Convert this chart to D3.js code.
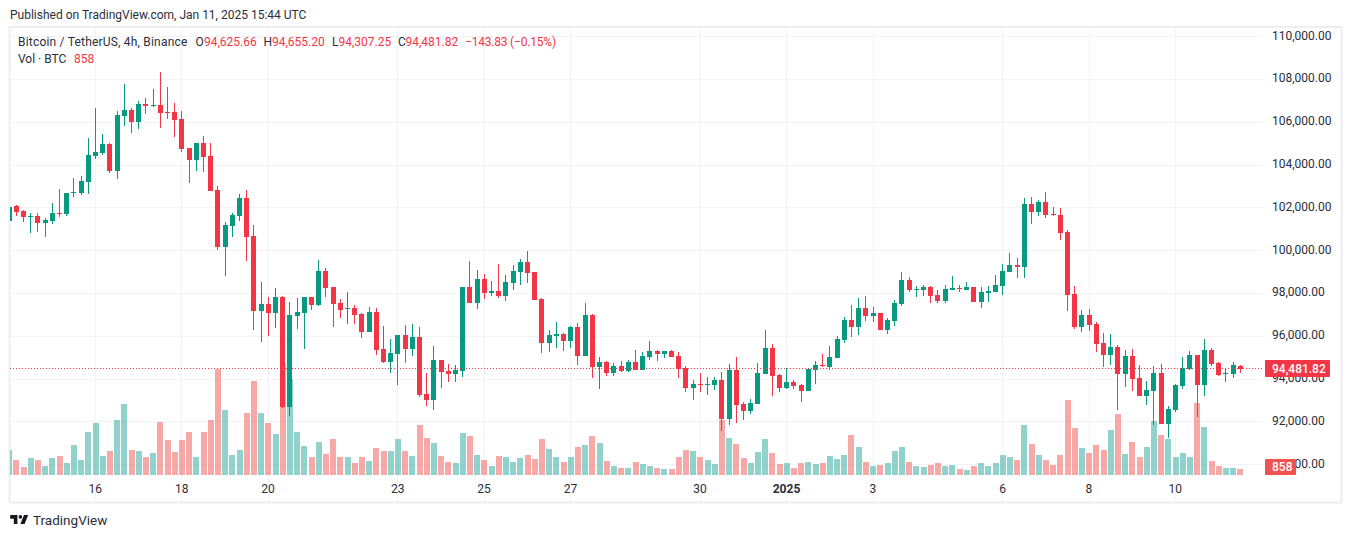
<!DOCTYPE html>
<html><head><meta charset="utf-8">
<style>html,body{margin:0;padding:0;background:#fff}svg{display:block}text{font-family:Roboto,sans-serif}</style>
<script src="https://d3js.org/d3.v7.min.js"></script></head><body><div id="c"></div>
<script>
const opens=[101386,102087,101853,101588,101619,101292,101386,101760,101713,102695,102695,103209,104424,104564,104985,103723,106294,106574,106013,106854,106777,106808,106480,106480,106153,104798,104237,105032,104424,102836,100172,101154,101621,102462,100686,97181,97508,97087,97835,92694,96947,97087,97835,97461,99050,98302,97554,97290,97321,97040,96199,97134,95405,94797,95171,96059,95405,95965,93301,93021,94890,94376,94236,94376,98302,97554,98676,98022,98115,97882,98489,99004,99472,99004,97742,95686,96013,96106,95779,96434,95078,96995,94564,94798,94284,94611,94377,94798,94424,95031,95312,95172,95312,95078,94517,93582,93769,93738,93723,93956,92134,94424,92835,92507,92835,94237,95452,94190,93582,93863,93723,93442,94424,94658,94564,94985,95826,96761,96433,97322,96948,97088,96293,96714,97509,98630,98163,98163,98303,97929,97649,98163,98257,98163,98303,97602,98023,98070,98350,99004,99332,99238,102183,101809,102276,101715,101669,100874,97976,96433,96995,96574,95686,95126,95499,94237,95079,94050,93209,93443,94284,91900,92555,93677,94471,95126,93723,95359,94752,94237,94237,94625.66];
const closes=[102056,101822,101573,101619,101292,101433,101760,101713,102695,102741,103255,104471,104611,104985,103723,106340,106574,106013,106854,106761,106808,106434,106434,106107,104751,104237,105032,104377,102788,100172,101200,101668,102462,100639,97181,97508,97087,97835,92694,96994,97134,97835,97461,99050,98256,97508,97227,97321,96994,96199,97134,95358,94797,95218,96059,95405,95965,93254,93021,94890,94329,94236,94423,98302,97554,98676,98022,98115,97882,98536,99050,99472,98958,97696,95686,96060,96106,95779,96434,95078,96995,94564,94798,94284,94611,94377,94798,94424,95078,95312,95172,95312,95031,94471,93582,93769,93723,93769,93956,92134,94424,92788,92507,92881,94284,95452,94143,93582,93863,93676,93442,94471,94658,94611,95032,95873,96761,96433,97322,96948,97088,96293,96761,97555,98630,98163,98210,98303,97883,97649,98210,98257,98210,98303,97602,98070,98116,98397,99051,99332,99238,102183,101809,102276,101669,101669,100827,97929,96433,96995,96527,95639,95126,95499,94237,95079,94004,93209,93490,94284,91900,92602,93723,94518,95126,93723,95359,94705,94191,94269,94658,94481.82];
const highs=[102103,102134,101900,101744,101744,101526,102227,102881,102695,103396,103489,105265,106667,105452,105032,106527,107789,106667,106995,107135,107556,108350,107649,106901,106527,104798,105032,105359,105032,103023,101340,101761,102649,102836,101200,98536,97835,98256,97882,97601,97788,97835,97835,99564,99190,98302,97741,98069,97461,97087,97367,97321,96479,95872,96059,96526,96573,96433,94283,95545,94890,94703,94657,98302,99518,99097,98910,98583,99377,98863,99330,99612,99986,99004,97789,96293,96667,96153,96480,96621,97555,97041,95031,94845,94751,94845,94891,95359,95265,95779,95359,95312,95359,95265,94611,93956,94284,94096,94096,94330,94704,95031,92928,93068,94751,96293,95639,94237,94517,93956,93769,94471,94845,95172,95546,96013,96901,97462,97789,97883,97368,97088,96854,97696,99004,98771,98350,98397,98350,98163,98397,98817,98397,98537,98303,98303,98350,98864,99378,99892,99659,102463,102510,102370,102744,102042,101996,100967,98350,97228,97275,96667,96154,96107,95593,95359,95406,94658,93910,94611,94705,92742,93770,95032,95312,95126,95873,95453,94798,94518,94798,94655.20];
const lows=[101355,101619,101339,100825,100872,100638,101246,101573,101619,102507,102601,102648,104284,104471,103629,103349,105826,105499,105686,106387,106714,105733,106153,105312,104611,103162,103723,103676,102788,100032,98817,100639,101387,99518,96293,95732,96012,96386,92647,92273,96339,95405,97227,97414,97835,96433,96853,96573,96573,95919,96199,95124,94750,94283,93722,94750,95077,93161,92740,92553,93582,93862,93862,94096,97554,97274,97741,97882,97788,97648,98162,98397,98490,97696,95218,95265,95452,95312,95452,94657,95078,94050,93536,94143,94143,94330,94330,94424,94424,94891,94844,94985,95031,94050,93396,93022,93396,93255,93489,91573,91853,91947,92087,92367,92835,94237,93209,93396,93536,93536,92928,93442,93769,94564,94424,94985,95686,95966,96060,96714,96667,96293,96106,96480,97415,98070,97836,97883,97555,97555,97555,98163,98070,98163,97602,97322,97602,98070,97929,99004,98724,98724,101248,101622,101528,101622,100500,97181,96340,96200,96247,95265,94565,94658,92555,93630,93443,93209,92788,91854,91900,91246,92461,93536,94424,92227,93209,94611,94144,93863,94050,94307.25];
const volumes=[3750,2250,1200,2550,2250,1350,2550,2850,1800,4500,2250,6450,7800,2850,3600,8250,10650,3750,3600,2700,3300,7950,5250,3450,5250,6450,2700,6450,8250,15900,9750,3000,3750,9300,14100,9300,7800,6150,16800,14400,6450,4350,2700,4950,3150,5400,2700,2700,1800,2700,2100,4050,3600,3600,5400,3600,2850,7500,5550,4800,2850,1950,1800,6300,5850,3000,2250,1350,2850,2700,1950,2550,3000,2400,5400,3900,2700,1950,2700,4200,4500,5850,4800,2100,1350,1050,1050,1950,1650,1350,1050,900,900,2700,3750,3600,2700,2250,1650,8250,5550,4650,2550,1800,3450,5400,3300,1650,1800,1050,1800,1950,1650,1800,2850,2400,3000,6000,4200,1950,1350,1500,1800,3600,4200,1950,1350,1200,1500,1800,1350,1500,900,750,1350,1800,1350,1800,3000,2700,2250,7500,4650,3000,2250,1500,3000,11250,7050,4050,3300,4500,3750,6750,9150,3150,4950,2700,4200,8100,6000,5400,2700,3300,2700,10800,7200,2100,1350,1050,1050,858];
const priceTicks=[90000,92000,94000,96000,98000,100000,102000,104000,106000,108000,110000];
const timeTickIndex=[12,24,36,54,66,78,96,108,120,138,150,162];
const timeTickLabels=['16','18','20','23','25','27','30','2025','3','6','8','10'];
const lastClose=94481.82, lastVolume=858;

const W=1352,H=538;
const svg=d3.select('#c').append('svg').attr('width',W).attr('height',H).style('background','#fff');
const xS=d3.scaleLinear().domain([12,162]).range([95.5,1175.5]);
const yS=d3.scaleLinear().domain([90000,110000]).range([464.7,36.7]);
const vS=d3.scaleLinear().domain([0,15000]).range([475,375]);
const plotL=10,plotR=1263,plotT=28,plotB=502;
const up='#089981',dn='#f23645';
const cell=d=>d.c>=d.o;
const data=opens.map((o,i)=>({i,o,c:closes[i],h:highs[i],l:lows[i],v:volumes[i]}));

svg.append('defs').append('clipPath').attr('id','clip').append('rect').attr('x',plotL).attr('y',plotT).attr('width',plotR-plotL).attr('height',plotB-plotT);

// grid
const grid=svg.append('g').attr('shape-rendering','crispEdges').attr('stroke','#f2f3f6').attr('stroke-width',1);
grid.selectAll('.h').data(priceTicks).join('line').attr('x1',plotL).attr('x2',plotR).attr('y1',d=>Math.floor(yS(d))+.5).attr('y2',d=>Math.floor(yS(d))+.5);
grid.selectAll('.v').data(timeTickIndex).join('line').attr('y1',plotT).attr('y2',plotB).attr('x1',d=>Math.floor(xS(d))+.5).attr('x2',d=>Math.floor(xS(d))+.5);

// frame
svg.append('rect').attr('x',9.5).attr('y',27).attr('width',1332).attr('height',475.5).attr('fill','none').attr('stroke','#edeef3').attr('stroke-width',2);

const plot=svg.append('g').attr('clip-path','url(#clip)');
// volume
plot.append('g').attr('shape-rendering','crispEdges').selectAll('rect').data(data).join('rect')
 .attr('x',d=>Math.round(xS(d.i))-3).attr('width',6)
 .attr('y',d=>vS(d.v)).attr('height',d=>vS(0)-vS(d.v))
 .attr('fill',d=>cell(d)?'rgba(38,166,154,.5)':'rgba(239,83,80,.5)');
// wicks
plot.append('g').attr('shape-rendering','crispEdges').selectAll('rect').data(data).join('rect')
 .attr('x',d=>Math.floor(xS(d.i))).attr('width',1)
 .attr('y',d=>yS(d.h)).attr('height',d=>yS(d.l)-yS(d.h))
 .attr('fill',d=>cell(d)?up:dn);
// bodies
plot.append('g').attr('shape-rendering','crispEdges').selectAll('rect').data(data).join('rect')
 .attr('x',d=>Math.floor(xS(d.i))-2).attr('width',5)
 .attr('y',d=>yS(Math.max(d.o,d.c))).attr('height',d=>Math.max(1,Math.abs(yS(d.o)-yS(d.c))))
 .attr('fill',d=>cell(d)?up:dn);

// last price line
const lastY=Math.floor(yS(lastClose))+.5;
svg.append('line').attr('x1',plotL).attr('x2',plotR).attr('y1',lastY).attr('y2',lastY)
 .attr('stroke',dn).attr('stroke-width',1).attr('stroke-dasharray','1 2');

// axes
const yAxis=d3.axisRight(yS).tickValues(priceTicks).tickSize(0).tickPadding(0).tickFormat(d3.format(',.2f'));
const yG=svg.append('g').attr('transform','translate(1272,-1.4)').call(yAxis);
yG.select('.domain').remove();
yG.selectAll('text').attr('font-size',12).attr('fill','#2a2e39').style('font-family','Roboto,sans-serif');
const tickMap=new Map(timeTickIndex.map((d,i)=>[d,timeTickLabels[i]]));
const xAxis=d3.axisBottom(xS).tickValues(timeTickIndex).tickSize(0).tickPadding(0).tickFormat(d=>tickMap.get(d));
const xG=svg.append('g').attr('transform','translate(-.7,484)').call(xAxis);
xG.select('.domain').remove();
xG.selectAll('text').attr('font-size',12).attr('fill','#2a2e39').style('font-family','Roboto,sans-serif')
  .attr('font-weight',d=>d===108?700:400);

// price badges
const fmt=d3.format(',.2f');
svg.append('rect').attr('x',1265).attr('y',360).attr('width',65).attr('height',17).attr('rx',1).attr('fill',dn);
svg.append('text').attr('x',1272).attr('y',372.7).attr('font-size',12).attr('font-weight',500).attr('fill','#fff').text(fmt(lastClose));
svg.append('rect').attr('x',1265).attr('y',459).attr('width',31).attr('height',16).attr('rx',1).attr('fill','#ef5350');
svg.append('text').attr('x',1272).attr('y',471.3).attr('font-size',12).attr('font-weight',500).attr('fill','#fff').text(lastVolume);

// header and legend
const label=(x,y,t,c,s=12,ls=0)=>svg.append('text').attr('x',x).attr('y',y).attr('font-size',s).attr('fill',c).attr('letter-spacing',ls).text(t);
label(10,18.5,'Published on TradingView.com, Jan 11, 2025 15:44 UTC','#2a2e39');
const ink='#2a2e39';
label(18,46,'Bitcoin / TetherUS, 4h, Binance',ink,12,.2);
label(195.5,46,'O',ink);label(204,46,fmt(opens[171]),dn);
label(263.5,46,'H',ink);label(272,46,fmt(highs[171]),dn);
label(332,46,'L',ink);label(338.5,46,fmt(lows[171]),dn);
label(398,46,'C',ink);label(405.5,46,fmt(closes[171]),dn);
label(465,46,'−143.83 (−0.15%)',dn,12,-.2);
label(18,63,'Vol · BTC',ink);label(74,63,lastVolume,dn);

// logo
svg.append('path').attr('transform','translate(9,511.5) scale(.6)').attr('fill','#131722')
 .attr('d','M14 6H2v6h6v9h6V6Zm12 15h-7l6-15h7l-6 15Zm-7-9a3 3 0 1 0 0-6 3 3 0 0 0 0 6Z');
label(33,525,'TradingView','#2a2e39',13.5);
</script></body></html>
